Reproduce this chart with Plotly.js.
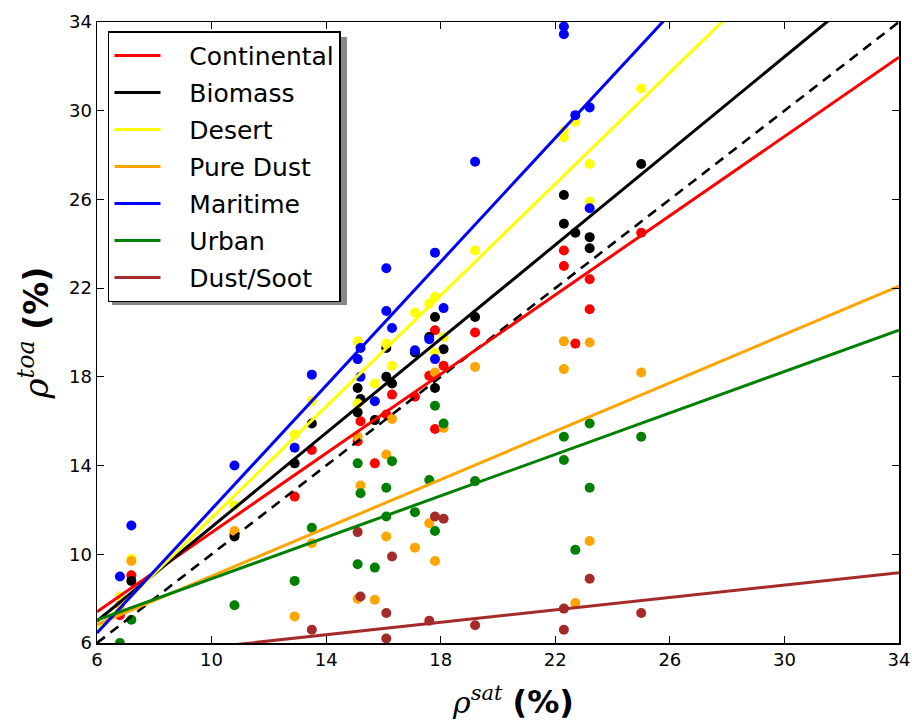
<!DOCTYPE html>
<html>
<head>
<meta charset="utf-8">
<script src="https://cdn.plot.ly/plotly-3.0.1.min.js"></script>
<style>html,body{margin:0;padding:0;background:#fff;}#chart{width:912px;height:722px;}</style>
</head>
<body>
<div id="chart"></div>
<script>
// ---- data ----
const seriesNames = ["Continental", "Biomass", "Desert", "Pure Dust", "Maritime", "Urban", "Dust/Soot"];
const seriesColors = ["#ff0000", "#000000", "#ffff00", "#ffa500", "#0000ff", "#008000", "#a52a2a"];

const continentalX = [6.8, 7.2, 10.8, 12.9, 13.5, 15.1, 15.2, 15.7, 16.1, 16.3, 17.1, 17.6, 17.8, 17.8, 18.1, 19.2, 22.3, 22.3, 22.7, 23.2, 23.2, 25.0];
const continentalY = [7.25, 9.05, 10.9, 12.6, 14.7, 15.1, 16.0, 14.1, 16.3, 17.2, 17.1, 18.05, 20.1, 15.65, 18.5, 20.0, 23.7, 23.0, 19.5, 22.4, 21.05, 24.5];

const biomassX = [7.2, 10.8, 12.9, 13.5, 15.1, 15.1, 15.2, 15.7, 16.1, 16.1, 16.3, 17.1, 17.6, 17.8, 17.8, 18.1, 19.2, 22.3, 22.3, 22.7, 23.2, 23.2, 25.0];
const biomassY = [8.8, 10.8, 14.1, 15.9, 17.5, 16.4, 17.0, 16.05, 18.0, 19.3, 17.7, 19.1, 19.8, 20.7, 17.5, 19.25, 20.7, 26.2, 24.9, 24.5, 24.3, 23.8, 27.6];

const desertX = [6.8, 7.2, 10.8, 12.9, 13.5, 15.1, 15.1, 15.7, 16.1, 16.3, 17.1, 17.6, 17.8, 17.8, 18.1, 19.2, 22.3, 22.3, 22.7, 23.2, 23.2, 25.0];
const desertY = [8.1, 9.8, 12.2, 15.4, 16.9, 19.6, 16.8, 17.7, 19.5, 18.5, 20.9, 21.3, 21.6, 19.1, 19.8, 23.7, 29.1, 28.8, 29.5, 27.6, 25.9, 31.0];

const pureDustX = [6.8, 7.2, 10.8, 12.9, 13.5, 15.1, 15.1, 15.2, 15.7, 16.1, 16.1, 16.3, 17.1, 17.6, 17.8, 17.8, 18.1, 19.2, 22.3, 22.3, 22.7, 23.2, 23.2, 25.0];
const pureDustY = [7.7, 9.7, 11.05, 7.2, 10.5, 15.3, 8.0, 13.1, 7.95, 14.5, 10.8, 16.1, 10.3, 11.4, 18.2, 9.7, 15.7, 18.45, 19.6, 18.35, 7.8, 19.55, 10.6, 18.2];

const maritimeX = [6.8, 7.2, 10.8, 12.9, 13.5, 15.1, 15.2, 15.2, 15.7, 16.1, 16.1, 16.3, 17.1, 17.6, 17.8, 17.8, 18.1, 19.2, 22.3, 22.3, 22.7, 23.2, 23.2];
const maritimeY = [9.0, 11.3, 14.0, 14.8, 18.1, 18.8, 19.3, 18.0, 16.9, 22.9, 20.97, 20.2, 19.2, 19.7, 23.6, 18.8, 21.1, 27.7, 33.8, 33.45, 29.8, 30.15, 25.6];

const urbanX = [6.8, 7.2, 10.8, 12.9, 13.5, 15.1, 15.1, 15.2, 15.7, 16.1, 16.1, 16.3, 17.1, 17.6, 17.8, 17.8, 18.1, 19.2, 22.3, 22.3, 22.7, 23.2, 23.2, 25.0];
const urbanY = [6.0, 7.05, 7.7, 8.8, 11.2, 14.1, 9.55, 12.75, 9.4, 13.0, 11.7, 14.2, 11.9, 13.35, 16.7, 11.05, 15.9, 13.3, 15.3, 14.25, 10.2, 15.9, 13.0, 15.3];

const dustSootX = [13.5, 15.1, 15.2, 16.1, 16.1, 16.3, 17.6, 17.8, 18.1, 19.2, 22.3, 22.3, 23.2, 25.0];
const dustSootY = [6.6, 11.0, 8.1, 7.35, 6.2, 9.9, 7.0, 11.7, 11.6, 6.8, 7.55, 6.6, 8.9, 7.35];

// regression lines: value at the left (x = 6) and right (x = 34) edges
const fitX = [6, 34];
const fitYLeft  = [7.41, 6.99, 6.62, 6.83, 6.45, 7.03, 5.25];
const fitYRight = [32.41, 36.67, 41.76, 22.09, 45.51, 20.11, 9.17];

// 1:1 reference line
const oneToOneX = [6, 34];
const oneToOneY = [6, 34];

const tickVals = [6, 10, 14, 18, 22, 26, 30, 34];
const tickText = ["6", "10", "14", "18", "22", "26", "30", "34"];

// ---- build ----
const pointsX = [continentalX, biomassX, desertX, pureDustX, maritimeX, urbanX, dustSootX];
const pointsY = [continentalY, biomassY, desertY, pureDustY, maritimeY, urbanY, dustSootY];
const legendPad = "\u00a0\u00a0\u00a0";

const traces = [];
for (let i = 0; i < seriesNames.length; i++) {
  traces.push({
    type: "scatter", mode: "markers",
    x: pointsX[i], y: pointsY[i],
    marker: {color: seriesColors[i], size: 10, line: {width: 0}},
    showlegend: false, hoverinfo: "skip"
  });
}
traces.push({
  type: "scatter", mode: "lines", x: oneToOneX, y: oneToOneY,
  line: {color: "#000", width: 2.6, dash: "10px,7px"}, showlegend: false
});
for (let i = 0; i < seriesNames.length; i++) {
  traces.push({
    type: "scatter", mode: "lines",
    x: fitX, y: [fitYLeft[i], fitYRight[i]],
    name: legendPad + seriesNames[i], legendgroup: "g" + i,
    line: {color: seriesColors[i], width: 3},
    showlegend: true
  });
}

const axisCommon = {
  range: [6, 34], tickvals: tickVals, ticktext: tickText,
  ticks: "inside", ticklen: 7, tickwidth: 1, tickcolor: "#000",
  mirror: "ticks", showline: true, linecolor: "#000", linewidth: 1.5,
  showgrid: false, zeroline: false,
  tickfont: {family: "DejaVu Sans", size: 18, color: "#000"}
};

const layout = {
  width: 912, height: 722,
  margin: {l: 97, r: 13, t: 22, b: 79},
  paper_bgcolor: "#fff", plot_bgcolor: "#fff",
  font: {family: "DejaVu Sans", color: "#000"},
  xaxis: Object.assign({}, axisCommon),
  yaxis: Object.assign({}, axisCommon, {
    title: {text: "<span style=\"font-family:'DejaVu Serif';font-size:34px\"><i>ρ</i><sup><i>toa</i></sup></span> <b>(%)</b>",
            font: {family: "DejaVu Sans", size: 33, color: "#000"}, standoff: 10}
  }),
  annotations: [{
    xref: "paper", yref: "paper", x: 0.519, y: -0.094,
    xanchor: "center", yanchor: "middle", showarrow: false,
    text: "<span style=\"font-family:'DejaVu Serif';font-size:30px\"><i>ρ</i><sup><i>sat</i></sup></span> <b>(%)</b>",
    font: {family: "DejaVu Sans", size: 32, color: "#000"}
  }],
  legend: {
    x: 0.0137, y: 0.985, xanchor: "left", yanchor: "top",
    bgcolor: "#fff", bordercolor: "#000", borderwidth: 1.5,
    font: {family: "DejaVu Sans", size: 25, color: "#000"},
    tracegroupgap: 1.5, itemwidth: 46
  },
  shapes: [{
    type: "rect", xref: "paper", yref: "paper", layer: "above",
    x0: 0.0187, x1: 0.3117, y0: 0.5443, y1: 0.9758,
    fillcolor: "#888", line: {width: 0}
  }],
  showlegend: true
};

Plotly.newPlot("chart", traces, layout, {displayModeBar: false, staticPlot: true});
</script>
</body>
</html>
